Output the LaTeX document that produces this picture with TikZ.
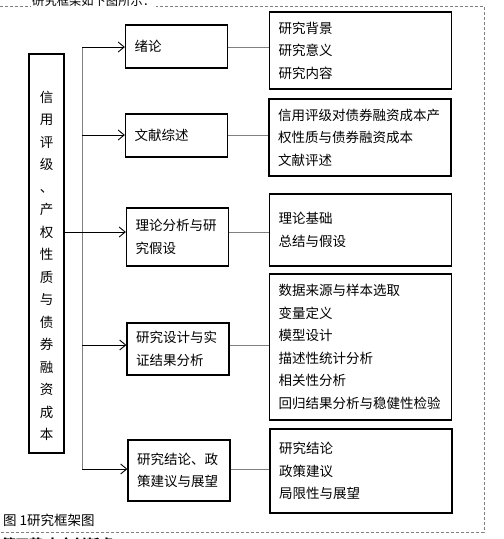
\documentclass[tikz,border=0pt]{standalone}
\usepackage{fontspec}
\setmainfont{Noto Sans CJK SC}
\usetikzlibrary{arrows.meta}

\begin{document}
\begin{tikzpicture}[x=1pt, y=-1pt,
    txt/.style={font=\fontsize{13.5}{22.5}\selectfont},
    midbox/.style={txt, draw, line width=1.3pt, text width=84pt, inner xsep=9pt, inner ysep=0pt, align=left},
    itembox/.style={txt, draw, line width=1.3pt, text width=164pt, inner xsep=9pt, inner ysep=0pt, align=left},
    arr/.style={-{Straight Barb[length=6pt,width=10pt]}, line width=0.9pt},
    link/.style={draw=gray, line width=0.9pt},
    frame/.style={draw=gray, dash pattern=on 3pt off 2pt, line width=0.8pt}]
    \useasboundingbox (0,0) rectangle (504,539);
    \clip (0,0) rectangle (504,539);
    % dashed frame and the text round it
    \draw[frame] (0,6) -- (484,6) -- (484,532) -- (0,532);
    \node[fill=white, inner sep=1pt, anchor=west, font=\fontsize{12.3}{14}\selectfont] (intro) at (31,0.5) {研究框架如下图所示：};
    \node[anchor=west, inner sep=0pt, font=\fontsize{13.5}{14}\selectfont] (cap) at (3,520) {图 1研究框架图};
    \node[anchor=west, inner sep=0pt, font=\fontsize{13.5}{14}\selectfont\bfseries] (next) at (2,544) {第四节 本文创新点};
    % left box
    \node[draw, line width=1.3pt, minimum width=35pt, minimum height=399pt] (src) at (46.5,253.5) {};
    \node[txt, align=center, text width=14pt, inner sep=0pt] (srctext) at (46.5,266)
        {信\\用\\评\\级\\、\\产\\权\\性\\质\\与\\债\\券\\融\\资\\成\\本};
    % middle boxes
    \node[midbox, minimum height=43pt] (m1) at (176.5,46.5) {绪论};
    \node[midbox, minimum height=43pt] (m2) at (176.5,135.5) {文献综述};
    \node[midbox, minimum height=58pt] (m3) at (177.5,237) {理论分析与研\\究假设};
    \node[midbox, minimum height=52pt] (m4) at (178,349) {研究设计与实\\证结果分析};
    \node[midbox, minimum height=61pt] (m5) at (179,470.5) {研究结论、政\\策建议与展望};
    % right boxes
    \node[itembox, minimum height=77pt] (r1) at (360.5,50.5) {研究背景\\研究意义\\研究内容};
    \node[itembox, minimum height=77pt] (r2) at (360,137.5) {信用评级对债券融资成本产\\权性质与债券融资成本\\文献评述};
    \node[itembox, minimum height=72pt] (r3) at (360.5,230) {理论基础\\总结与假设};
    \node[itembox, minimum height=146pt] (r4) at (360.5,347) {数据来源与样本选取\\变量定义\\模型设计\\描述性统计分析\\相关性分析\\回归结果分析与稳健性检验};
    \node[itembox, minimum height=84pt] (r5) at (361,471) {研究结论\\政策建议\\局限性与展望};
    % connectors
    \coordinate (trunk) at (82,0);
    \foreach \i/\y in {1/47,2/135,3/232,4/345,5/469}
        \coordinate (row\i) at (0,\y);
    \draw[link] (trunk |- row1) -- (trunk |- row5);
    \foreach \i in {1,2,4,5}
        \draw[arr] (trunk |- row\i) -- (m\i.west |- row\i);
    \draw[arr] (src.east |- row3) -- (m3.west |- row3);
    \foreach \i in {1,...,5}
        \draw[link] (m\i.east |- row\i) -- (r\i.west |- row\i);
\end{tikzpicture}
\end{document}
